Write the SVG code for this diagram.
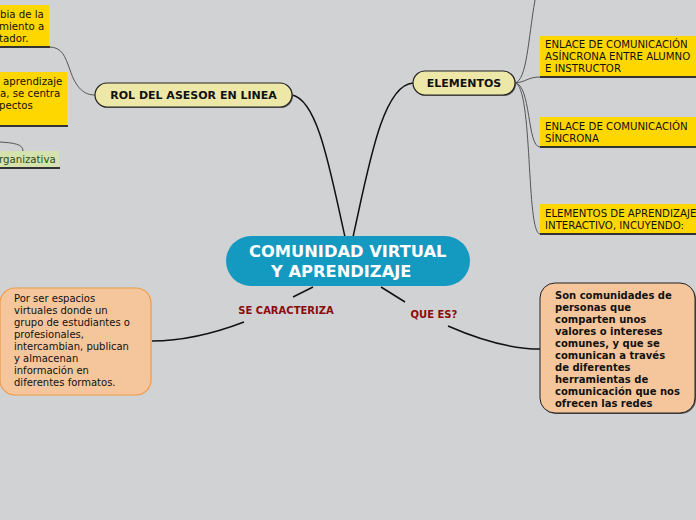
<svg xmlns="http://www.w3.org/2000/svg" width="696" height="520" viewBox="0 0 696 520">
<style>
.t{font-family:"DejaVu Sans",Verdana,sans-serif}
.pill{fill:#eee8a8;stroke:#222;stroke-width:1.2}
.pt{font-size:11px;font-weight:bold;fill:#111;text-anchor:middle}
.yb{fill:#ffd700}
.ub{stroke:#333;stroke-width:2}
.yt{font-size:10.2px;fill:#111}
.c{fill:none;stroke:#555;stroke-width:1}
.m{fill:none;stroke:#111;stroke-width:1.5}
.lbl{font-size:10px;font-weight:bold;fill:#8b0a0a;text-anchor:middle}
</style>
<rect width="696" height="520" fill="#d1d2d4"/>
<g id="connectors">
<path class="m" d="M345,237 C330,170 318,100 292,95"/>
<path class="m" d="M353,237 C368,170 382,85 413,83"/>
<path class="c" d="M515,83 C527,80 528,40 535,0"/>
<path class="c" d="M515,83 C526,82 528,77 540,77"/>
<path class="c" d="M515,83 C531,84 527,147 540,147"/>
<path class="c" d="M515,83 C533,86 526,234 540,234"/>
<path class="c" d="M49,47 C62,47 65,56 70,70 C76,88 84,95 95,95"/>
<path class="c" d="M0,142 C14,143 23,144 23,151"/>
<path class="m" d="M313,287 L293,297"/>
<path class="m" d="M244,322 C210,335 182,341 152,341"/>
<path class="m" d="M381,287 L405,302"/>
<path class="m" d="M448,326 C480,340 512,349 540,349"/>
</g>
<g id="center">
<rect x="226" y="236" width="244" height="50" rx="25" fill="#1499c0"/>
<text class="t" x="249" y="257" font-size="16.3" font-weight="bold" fill="#fff">COMUNIDAD VIRTUAL</text>
<text class="t" x="271" y="277" font-size="16.3" font-weight="bold" fill="#fff">Y APRENDIZAJE</text>
</g>
<g id="rol">
<rect x="96" y="84" width="197" height="24" rx="12" fill="#666"/>
<rect class="pill" x="95" y="83" width="197" height="24" rx="12"/>
<text class="t pt" x="193.5" y="99">ROL DEL ASESOR EN LINEA</text>
</g>
<g id="elementos">
<rect x="414" y="72" width="102" height="24" rx="12" fill="#666"/>
<rect class="pill" x="413" y="71" width="102" height="24" rx="12"/>
<text class="t pt" x="464" y="87">ELEMENTOS</text>
</g>
<g id="enlace-asincrona">
<rect class="yb" x="540" y="36" width="156" height="41"/>
<line class="ub" x1="540" y1="77" x2="696" y2="77"/>
<text class="t yt" x="545" y="48">ENLACE DE COMUNICACIÓN</text>
<text class="t yt" x="545" y="60">ASÍNCRONA ENTRE ALUMNO</text>
<text class="t yt" x="545" y="72">E INSTRUCTOR</text>
</g>
<g id="enlace-sincrona">
<rect class="yb" x="540" y="117" width="156" height="30"/>
<line class="ub" x1="540" y1="147" x2="696" y2="147"/>
<text class="t yt" x="545" y="130">ENLACE DE COMUNICACIÓN</text>
<text class="t yt" x="545" y="142">SÍNCRONA</text>
</g>
<g id="elementos-aprendizaje">
<rect class="yb" x="540" y="204" width="156" height="30"/>
<line class="ub" x1="540" y1="234" x2="696" y2="234"/>
<text class="t yt" x="545" y="217">ELEMENTOS DE APRENDIZAJE</text>
<text class="t yt" x="545" y="229">INTERACTIVO, INCUYENDO:</text>
</g>
<g id="left-top">
<rect class="yb" x="0" y="5" width="49" height="42"/>
<line class="ub" x1="0" y1="47" x2="50" y2="47"/>
<text class="t yt" x="0" y="18">bia de la</text>
<text class="t yt" x="-1" y="30">miento a</text>
<text class="t yt" x="-1" y="42">tador.</text>
</g>
<g id="left-mid">
<rect class="yb" x="0" y="72" width="67" height="54"/>
<line class="ub" x1="0" y1="126" x2="68" y2="126"/>
<text class="t yt" x="3" y="85">aprendizaje</text>
<text class="t yt" x="0" y="97">a, se centra</text>
<text class="t yt" x="-1" y="109">pectos</text>
</g>
<g id="left-org">
<rect x="0" y="151" width="59" height="17" fill="#d5e2ae"/>
<line class="ub" x1="0" y1="168" x2="60" y2="168"/>
<text class="t" x="-1" y="163" font-size="10.2" fill="#2c4a22">rganizativa</text>
</g>
<g id="se-caracteriza">
<text class="t lbl" x="286" y="314">SE CARACTERIZA</text>
</g>
<g id="que-es">
<text class="t lbl" x="434" y="318">QUE ES?</text>
</g>
<g id="espacios">
<rect x="0" y="288" width="151" height="107" rx="15" fill="#f5c69b" stroke="#f09a48" stroke-width="1.2"/>
<text class="t" font-size="10" fill="#111">
<tspan x="14" y="302">Por ser espacios</tspan>
<tspan x="14" y="314">virtuales donde un</tspan>
<tspan x="14" y="326">grupo de estudiantes o</tspan>
<tspan x="14" y="338">profesionales,</tspan>
<tspan x="14" y="350">intercambian, publican</tspan>
<tspan x="14" y="362">y almacenan</tspan>
<tspan x="14" y="374">información en</tspan>
<tspan x="14" y="386">diferentes formatos.</tspan>
</text>
</g>
<g id="comunidades">
<rect x="541" y="284" width="155" height="130" rx="15" fill="#555"/>
<rect x="540" y="283" width="155" height="130" rx="15" fill="#f5c69b" stroke="#222" stroke-width="1"/>
<text class="t" font-size="10" font-weight="bold" fill="#111">
<tspan x="555" y="299">Son comunidades de</tspan>
<tspan x="555" y="311">personas que</tspan>
<tspan x="555" y="323">comparten unos</tspan>
<tspan x="555" y="335">valores o intereses</tspan>
<tspan x="555" y="347">comunes, y que se</tspan>
<tspan x="555" y="359">comunican a través</tspan>
<tspan x="555" y="371">de diferentes</tspan>
<tspan x="555" y="383">herramientas de</tspan>
<tspan x="555" y="395">comunicación que nos</tspan>
<tspan x="555" y="407">ofrecen las redes</tspan>
</text>
</g>
</svg>
